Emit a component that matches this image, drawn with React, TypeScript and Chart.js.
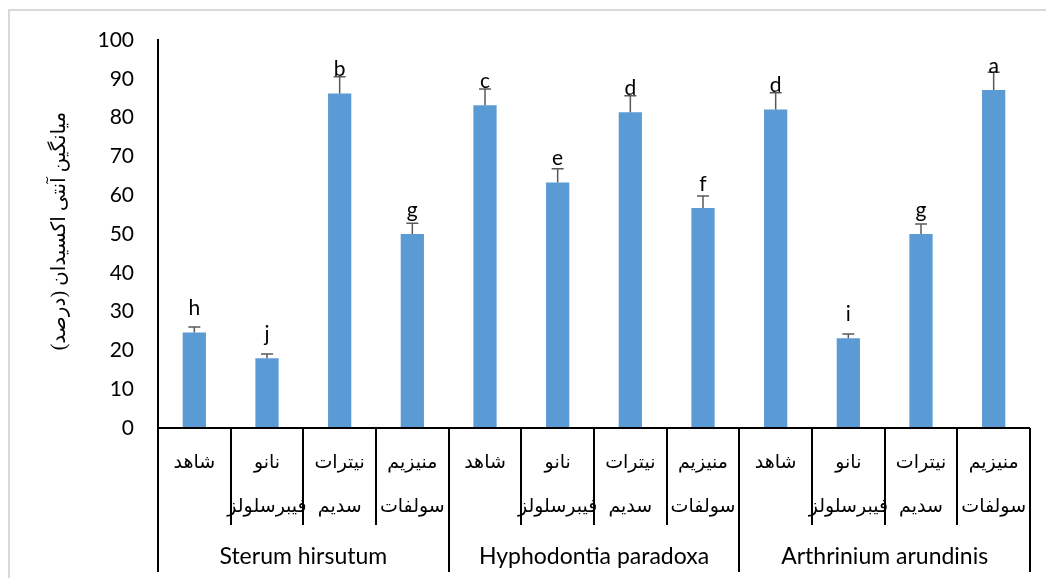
import React, { useEffect, useRef } from "react";
import { Chart, registerables } from "chart.js";

Chart.register(...registerables);

const groups = ["Sterum hirsutum", "Hyphodontia paradoxa", "Arthrinium arundinis"];
const treatmentLine1 = ["شاهد", "نانو", "نیترات", "منیزیم"];
const treatmentLine2 = ["", "فیبرسلولز", "سدیم", "سولفات"];
const values = [24.6, 18.0, 86.2, 50.0, 83.2, 63.3, 81.4, 56.7, 82.1, 23.1, 50.0, 87.1];
const errors = [1.4, 1.1, 4.3, 2.8, 4.2, 3.5, 4.2, 3.1, 4.3, 1.1, 2.6, 4.6];
const letters = ["h", "j", "b", "g", "c", "e", "d", "f", "d", "i", "g", "a"];
const yTitle = "میانگین آنتی اکسیدان (درصد)";

const categories: string[] = [];
groups.forEach((g) => treatmentLine1.forEach((t, i) => categories.push(g + " - " + (t + " " + treatmentLine2[i]).trim())));

const ARABIC_FONT = '"Liberation Serif", "DejaVu Serif", "DejaVu Sans", serif';
const LATIN_FONT = "Lato, 'Open Sans', sans-serif";

const overlayPlugin = {
  id: "overlay",
  beforeDraw(chart: any) {
    const ctx = chart.ctx;
    ctx.save();
    ctx.strokeStyle = "#d9d9d9";
    ctx.lineWidth = 2;
    ctx.beginPath();
    ctx.moveTo(9, chart.height);
    ctx.lineTo(9, 10);
    ctx.lineTo(chart.width, 10);
    ctx.stroke();
    ctx.restore();
  },
  afterDatasetsDraw(chart: any) {
    const ctx = chart.ctx;
    const area = chart.chartArea;
    const y = chart.scales.y;
    const x = chart.scales.x;
    const meta = chart.getDatasetMeta(0);
    ctx.save();
    // error bars
    ctx.strokeStyle = "#595959";
    ctx.lineWidth = 1.5;
    meta.data.forEach((bar: any, i: number) => {
      const top = y.getPixelForValue(values[i] + errors[i]);
      const base = y.getPixelForValue(values[i]);
      ctx.beginPath();
      ctx.moveTo(bar.x, base);
      ctx.lineTo(bar.x, top);
      ctx.moveTo(bar.x - 6, top);
      ctx.lineTo(bar.x + 6, top);
      ctx.stroke();
    });
    // letters
    ctx.fillStyle = "#000";
    ctx.font = "21px " + LATIN_FONT;
    ctx.textAlign = "center";
    ctx.textBaseline = "alphabetic";
    meta.data.forEach((bar: any, i: number) => {
      ctx.fillText(letters[i], bar.x, bar.y - 17.5);
    });
    // x axis line
    ctx.strokeStyle = "#000";
    ctx.lineWidth = 2;
    ctx.beginPath();
    ctx.moveTo(area.left, area.bottom);
    ctx.lineTo(area.right, area.bottom);
    ctx.stroke();
    // dividers
    const n = categories.length;
    const w = (area.right - area.left) / n;
    for (let k = 0; k <= n; k++) {
      const bx = Math.round(area.left + k * w);
      const isGroup = k % treatmentLine1.length === 0;
      ctx.beginPath();
      ctx.moveTo(bx, area.bottom);
      ctx.lineTo(bx, isGroup ? 572 : 525);
      ctx.stroke();
    }
    // category labels
    ctx.font = "19px " + ARABIC_FONT;
    ctx.textBaseline = "middle";
    (ctx as any).direction = "rtl";
    for (let i = 0; i < n; i++) {
      const cx = x.getPixelForValue(i);
      const t = i % treatmentLine1.length;
      ctx.fillText(treatmentLine1[t], cx, 463);
      if (treatmentLine2[t]) ctx.fillText(treatmentLine2[t], cx, 507);
    }
    (ctx as any).direction = "ltr";
    // group labels
    ctx.font = "23px " + LATIN_FONT;
    groups.forEach((g, gi) => {
      const l = area.left + gi * treatmentLine1.length * w;
      const r = l + treatmentLine1.length * w;
      ctx.fillText(g, (l + r) / 2, 557);
    });
    // y title
    ctx.save();
    ctx.translate(60, 231);
    ctx.rotate(-Math.PI / 2);
    ctx.font = "20px " + ARABIC_FONT;
    (ctx as any).direction = "rtl";
    ctx.fillText(yTitle, 0, 0);
    ctx.restore();
    // y axis extension
    ctx.beginPath();
    ctx.moveTo(area.left, area.bottom);
    ctx.lineTo(area.left, 572);
    ctx.stroke();
    ctx.restore();
  },
};

export default function App() {
  const ref = useRef<HTMLCanvasElement>(null);
  useEffect(() => {
    if (!ref.current) return;
    const chart = new Chart(ref.current, {
      type: "bar",
      data: {
        labels: categories,
        datasets: [
          {
            data: values,
            backgroundColor: "#5B9BD5",
            barPercentage: 0.32,
            categoryPercentage: 1,
          },
        ],
      },
      options: {
        animation: false,
        responsive: true,
        maintainAspectRatio: false,
        layout: { padding: { left: 0, top: 40, right: 16, bottom: 150 } },
        plugins: { legend: { display: false }, tooltip: { enabled: false } },
        scales: {
          x: { display: false },
          y: {
            min: 0,
            max: 100,
            ticks: { stepSize: 10, padding: 24, color: "#000", font: { family: "Lato", size: 21 } },
            grid: { display: false, drawTicks: false },
            border: { display: true, color: "#000", width: 2 },
            afterFit: (s: any) => {
              s.width = 158;
            },
          },
        },
      },
      plugins: [overlayPlugin],
    } as any);
    return () => chart.destroy();
  }, []);
  return (
    <div style={{ position: "absolute", left: 0, top: 0, width: 1046, height: 578 }}>
      <canvas ref={ref} />
    </div>
  );
}
